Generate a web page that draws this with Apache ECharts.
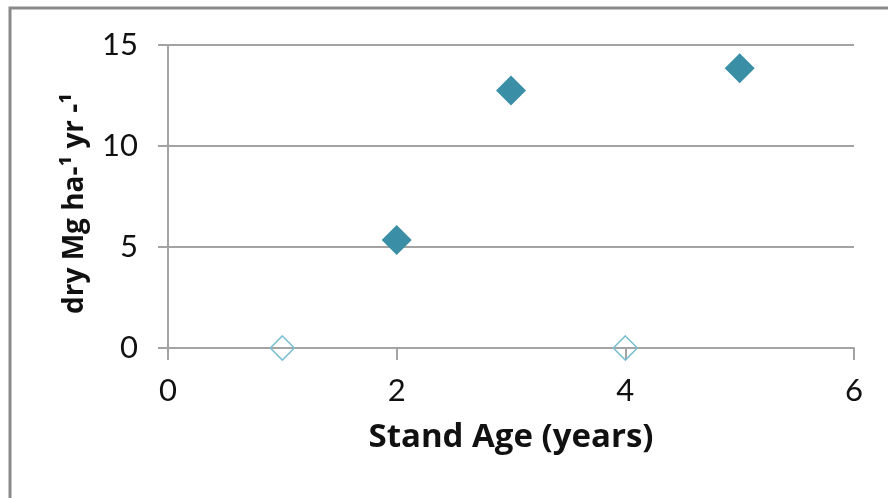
<!DOCTYPE html>
<html>
<head>
<meta charset="utf-8">
<script src="https://cdn.jsdelivr.net/npm/echarts@6/dist/echarts.min.js"></script>
<style>
html,body{margin:0;padding:0;background:#fff;}
#c{width:888px;height:498px;}
</style>
</head>
<body>
<div id="c"></div>
<script>
// Data
const xTitle = 'Stand Age (years)';
const yTitle = 'dry Mg ha-¹ yr -¹';
const filledX = [2, 3, 5];
const filledY = [5.35, 12.75, 13.85];
const hollowX = [1, 4];
const hollowY = [0, 0];

const font = 'Lato, "Noto Sans", sans-serif';
const titleFont = '"Open Sans", Lato, sans-serif';
const chart = echarts.init(document.getElementById('c'));
chart.setOption({
  animation: false,
  backgroundColor: '#fff',
  graphic: [{
    type: 'rect', silent: true, z: 100,
    shape: { x: 10, y: 8, width: 1000, height: 1000 },
    style: { fill: 'none', stroke: '#8a8a8a', lineWidth: 3 }
  }],
  grid: { left: 168, right: 34, top: 45, bottom: 150 },
  xAxis: {
    type: 'value', min: 0, max: 6, interval: 2,
    name: xTitle, nameLocation: 'middle', nameGap: 73,
    nameTextStyle: { fontFamily: titleFont, fontWeight: 'bold', fontSize: 33, color: '#111' },
    axisLine: { show: true, onZero: false, lineStyle: { color: '#a3a3a3', width: 2 } },
    axisTick: { show: true, length: 12, lineStyle: { color: '#a3a3a3', width: 2 } },
    axisLabel: { fontFamily: font, fontSize: 31, color: '#111', margin: 27 },
    splitLine: { show: false }
  },
  yAxis: {
    type: 'value', min: 0, max: 15, interval: 5,
    name: yTitle, nameLocation: 'middle', nameGap: 79, nameRotate: 90,
    nameTextStyle: { fontFamily: titleFont, fontWeight: 'bold', fontSize: 28, color: '#111', padding: [0, 14, 0, 0] },
    axisLine: { show: true, onZero: false, lineStyle: { color: '#a3a3a3', width: 2 } },
    axisTick: { show: true, length: 10, lineStyle: { color: '#a3a3a3', width: 2 } },
    axisLabel: { fontFamily: font, fontSize: 31, color: '#111', margin: 30 },
    splitLine: { show: true, lineStyle: { color: '#a3a3a3', width: 2 } }
  },
  series: [
    {
      type: 'scatter', symbol: 'diamond', symbolSize: 30,
      data: filledX.map((x, i) => [x, filledY[i]]),
      itemStyle: { color: '#3a8fa6', opacity: 1 }
    },
    {
      type: 'scatter', symbol: 'diamond', symbolSize: 24,
      data: hollowX.map((x, i) => [x, hollowY[i]]),
      itemStyle: { color: 'rgba(255,255,255,0)', borderColor: '#7fc0d0', borderWidth: 1.6, opacity: 1 }
    }
  ]
});
</script>
</body>
</html>
